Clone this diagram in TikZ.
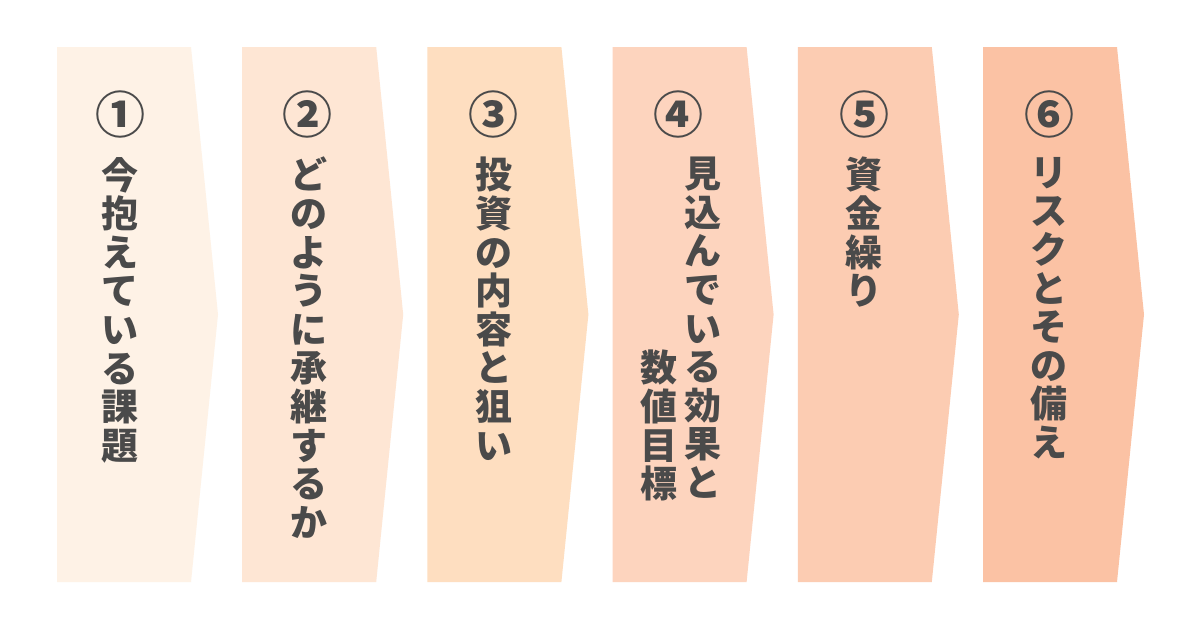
\documentclass[tikz,border=0pt]{standalone}
\usepackage{fontspec}
\newfontfamily\jpfont{Noto Sans CJK JP}
\definecolor{cA}{HTML}{FEF2E6}
\definecolor{cB}{HTML}{FEE6D4}
\definecolor{cC}{HTML}{FEDEC0}
\definecolor{cD}{HTML}{FDD4BE}
\definecolor{cE}{HTML}{FCCCB2}
\definecolor{cF}{HTML}{FBC2A4}
\definecolor{ink}{HTML}{4A4A4A}
\begin{document}
\begin{tikzpicture}[x=1pt,y=-1pt,
  numlabel/.style={text=ink,inner sep=0pt,font=\jpfont\bfseries\fontsize{50}{50}\selectfont},
  vtext/.style={text=ink,inner sep=0pt,anchor=north,align=center,font=\jpfont\bfseries\fontsize{37}{38.6}\selectfont}]
\fill[white] (0,0) rectangle (1200,630);
\foreach \i/\c in {0/cA,1/cB,2/cC,3/cD,4/cE,5/cF}{
  \fill[\c] ({57+185.2*\i},47) -- ({191+185.2*\i},47) -- ({218+185.2*\i},314.5)
     -- ({191+185.2*\i},582) -- ({57+185.2*\i},582) -- cycle;
}
\node[numlabel] (n1) at (120,114) {①};
\node[numlabel] (n2) at (307,114) {②};
\node[numlabel] (n3) at (493,114) {③};
\node[numlabel] (n4) at (678,114) {④};
\node[numlabel] (n5) at (864,114) {⑤};
\node[numlabel] (n6) at (1049,114) {⑥};
\node[vtext] (t1) at (120,157) {今\\抱\\え\\て\\い\\る\\課\\題};
\node[vtext] (t2) at (309,157) {ど\\の\\よ\\う\\に\\承\\継\\す\\る\\か};
\node[vtext] (t3) at (494,157) {投\\資\\の\\内\\容\\と\\狙\\い};
\node[vtext] (t4a) at (703,157) {見\\込\\ん\\で\\い\\る\\効\\果\\と};
\node[vtext] (t4b) at (659,350) {数\\値\\目\\標};
\node[vtext] (t5) at (864,157) {資\\金\\繰\\り};
\node[vtext] (t6) at (1049,157) {リ\\ス\\ク\\と\\そ\\の\\備\\え};
\end{tikzpicture}
\end{document}
